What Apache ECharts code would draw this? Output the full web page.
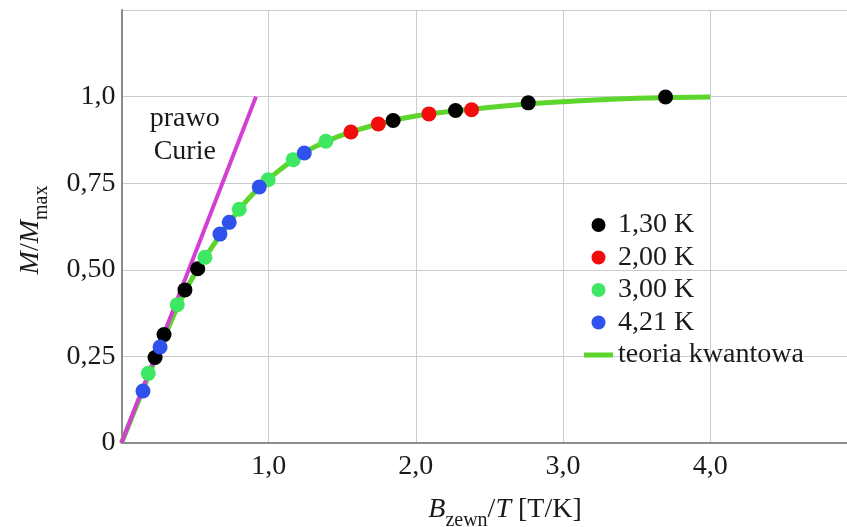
<!DOCTYPE html>
<html>
<head>
<meta charset="utf-8">
<script src="https://cdn.jsdelivr.net/npm/echarts@6/dist/echarts.min.js"></script>
<style>
html,body{margin:0;padding:0;background:#fff;}
#chart{width:847px;height:527px;}
</style>
</head>
<body>
<div id="chart"></div>
<script>
// ---- data ----
var legendNames = ['1,30 K', '2,00 K', '3,00 K', '4,21 K', 'teoria kwantowa'];
var xTickLabels = ['', '1,0', '2,0', '3,0', '4,0', ''];
var yTickLabels = ['0', '0,25', '0,50', '0,75', '1,0', ''];

var pts130 = [[0.228,0.247],[0.289,0.313],[0.431,0.442],[0.518,0.503],[1.846,0.931],[2.270,0.960],[2.764,0.982],[3.697,0.999]];
var pts200 = [[1.559,0.898],[1.745,0.921],[2.089,0.950],[2.379,0.962]];
var pts300 = [[0.182,0.201],[0.379,0.399],[0.567,0.536],[0.800,0.675],[0.997,0.760],[1.167,0.818],[1.389,0.871]];
var pts421 = [[0.146,0.150],[0.262,0.277],[0.669,0.603],[0.732,0.637],[0.936,0.739],[1.242,0.837]];

var theoryX = [0, 0.15, 0.2, 0.3, 0.4, 0.5, 0.6, 0.7, 0.8, 0.9, 1.0, 1.2, 1.4, 1.6, 1.8, 2.0, 2.3, 2.6, 3.0, 3.5, 4.0];
var theoryY = [0, 0.158, 0.211, 0.314, 0.41, 0.49, 0.556, 0.617, 0.674, 0.722, 0.762, 0.826, 0.872, 0.903, 0.926, 0.944, 0.960, 0.973, 0.985, 0.995, 0.999];

var curieX = [0, 0.914];
var curieY = [0, 1.0];
var curieLabel = 'prawo\nCurie';
var curieLabelPos = [0.43, 0.89];

// ---- build ----
var FONT = '"Liberation Serif", "DejaVu Serif", serif';
var TXT = '#1a1a1a';
var GREEN_LINE = '#5cd62c';
function zip(a, b) { return a.map(function (v, i) { return [v, b[i]]; }); }

var chart = echarts.init(document.getElementById('chart'), null, {renderer: 'canvas'});

function dotSeries(name, data, color) {
  return {
    type: 'scatter', name: name, data: data, symbol: 'circle', symbolSize: 15,
    itemStyle: {color: color, opacity: 1}, z: 5
  };
}

var legendData = legendNames.slice(0, 4).map(function (n) { return {name: n, icon: 'circle'}; });
legendData.push({name: legendNames[4], icon: 'path://M0,0 L29,0 L29,5 L0,5 Z', itemStyle: {color: GREEN_LINE}});

var option = {
  animation: false,
  backgroundColor: '#ffffff',
  grid: {left: 121.5, top: 10, right: 0, bottom: 84, containLabel: false},
  xAxis: {
    type: 'value', min: 0, max: 4.93, interval: 1,
    axisLine: {show: true, onZero: false, lineStyle: {color: '#8c8c8c', width: 2}},
    axisTick: {show: false},
    splitLine: {show: true, lineStyle: {color: '#cccccc', width: 1}},
    axisLabel: {
      margin: 10, fontSize: 28, fontFamily: FONT, color: TXT,
      showMaxLabel: false,
      formatter: function (v) { return (Math.abs(v - Math.round(v)) < 1e-6) ? (xTickLabels[Math.round(v)] || '') : ''; }
    }
  },
  yAxis: {
    type: 'value', min: 0, max: 1.25, interval: 0.25,
    axisLine: {show: true, onZero: false, lineStyle: {color: '#8c8c8c', width: 2}},
    axisTick: {show: false},
    splitLine: {show: true, lineStyle: {color: '#cccccc', width: 1}},
    axisLabel: {
      margin: 6, fontSize: 28, fontFamily: FONT, color: TXT,
      formatter: function (v) { return yTickLabels[Math.round(v / 0.25)] || ''; }
    }
  },
  legend: {
    orient: 'vertical', left: 579, top: 206,
    itemWidth: 29, itemHeight: 14, itemGap: 4.5,
    data: legendData,
    textStyle: {fontSize: 28, fontFamily: FONT, color: TXT, padding: [0, 0, 0, 0]}
  },
  series: [
    {
      type: 'line', name: legendNames[4], data: zip(theoryX, theoryY),
      smooth: true, showSymbol: false, symbol: 'none',
      lineStyle: {color: GREEN_LINE, width: 5}, itemStyle: {color: GREEN_LINE}, z: 2
    },
    {
      type: 'line', name: 'Curie', data: zip(curieX, curieY),
      showSymbol: false, symbol: 'none',
      lineStyle: {color: '#d43fd3', width: 4}, itemStyle: {color: '#d43fd3'}, z: 3,
      markPoint: {
        symbol: 'circle', symbolSize: 1, itemStyle: {color: 'rgba(0,0,0,0)'},
        data: [{coord: curieLabelPos}],
        label: {
          show: true, position: 'inside', formatter: curieLabel,
          fontSize: 28, lineHeight: 33, fontFamily: FONT, color: TXT, align: 'center'
        }
      }
    },
    dotSeries(legendNames[0], pts130, '#000000'),
    dotSeries(legendNames[1], pts200, '#f20c0c'),
    dotSeries(legendNames[2], pts300, '#3ee862'),
    dotSeries(legendNames[3], pts421, '#2f52ef')
  ],
  graphic: [
    {
      type: 'text', x: 33, y: 230, rotation: Math.PI / 2,
      style: {
        text: '{i|M}{r|/}{i|M}{s|max}', x: 0, y: 0, align: 'center', verticalAlign: 'middle',
        fill: TXT,
        rich: {
          i: {fontSize: 28, fontStyle: 'italic', fontFamily: FONT, fill: TXT, verticalAlign: 'bottom', lineHeight: 38, padding: [0, 0, 7, 0]},
          r: {fontSize: 28, fontFamily: FONT, fill: TXT, verticalAlign: 'bottom', lineHeight: 38, padding: [0, 0, 7, 0]},
          s: {fontSize: 20, fontFamily: FONT, fill: TXT, verticalAlign: 'bottom', lineHeight: 22}
        }
      }
    },
    {
      type: 'text', x: 505, y: 512,
      style: {
        text: '{i|B}{s|zewn}{r|/}{i|T}{r| [T/K]}', x: 0, y: 0, align: 'center', verticalAlign: 'middle',
        fill: TXT,
        rich: {
          i: {fontSize: 28, fontStyle: 'italic', fontFamily: FONT, fill: TXT, verticalAlign: 'bottom', lineHeight: 38, padding: [0, 0, 7, 0]},
          r: {fontSize: 28, fontFamily: FONT, fill: TXT, verticalAlign: 'bottom', lineHeight: 38, padding: [0, 0, 7, 0]},
          s: {fontSize: 20, fontFamily: FONT, fill: TXT, verticalAlign: 'bottom', lineHeight: 22}
        }
      }
    }
  ]
};
chart.setOption(option);
</script>
</body>
</html>
